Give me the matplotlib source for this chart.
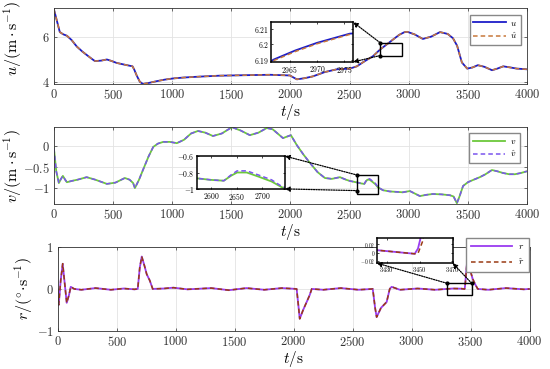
import matplotlib
matplotlib.use("Agg")
import matplotlib.pyplot as plt
from matplotlib.ticker import FuncFormatter, FixedLocator
from matplotlib.patches import Rectangle, ConnectionPatch

plt.rcParams['mathtext.fontset'] = 'cm'
plt.rcParams['font.family'] = ['DejaVu Serif']

# ---------------- data ----------------
u_t = [0, 20, 50, 80, 110, 150, 193, 240, 277, 320, 347, 400, 448, 490, 530, 600, 665, 680,
       700, 727, 753, 800, 870, 940, 1010, 1100, 1235, 1400, 1600, 1827, 1996, 2030, 2055,
       2120, 2190, 2292, 2393, 2503, 2562, 2630, 2700, 2757, 2820, 2867, 2920, 2962, 2966,
       2970, 2976, 2990, 3050, 3120, 3190, 3265, 3330, 3375, 3410, 3450, 3495, 3540, 3585,
       3640, 3705, 3750, 3800, 3860, 3915, 4000]
u = [7.2, 6.8, 6.2, 6.1, 6.04, 5.85, 5.57, 5.35, 5.2, 5.03, 4.93, 4.95, 5.0, 4.93, 4.85, 4.77,
     4.7, 4.55, 4.3, 4.02, 3.93, 3.97, 4.05, 4.12, 4.17, 4.21, 4.25, 4.29, 4.31, 4.33, 4.3,
     4.2, 4.13, 4.18, 4.26, 4.45, 4.57, 4.6, 4.7, 4.93, 5.15, 5.43, 5.68, 5.87, 6.08, 6.190,
     6.196, 6.201, 6.207, 6.21, 6.1, 5.9, 6.0, 6.2, 6.12, 5.93, 5.6, 4.87, 4.6, 4.65, 4.75,
     4.68, 4.53, 4.6, 4.7, 4.65, 4.6, 4.57]
u_hat = [7.2, 6.8, 6.2, 6.1, 6.04, 5.85, 5.57, 5.35, 5.2, 5.03, 4.93, 4.95, 5.0, 4.93, 4.85, 4.77,
         4.7, 4.55, 4.3, 4.02, 3.93, 3.97, 4.05, 4.12, 4.17, 4.21, 4.25, 4.29, 4.31, 4.33, 4.3,
         4.2, 4.13, 4.18, 4.26, 4.45, 4.57, 4.6, 4.7, 4.93, 5.15, 5.43, 5.68, 5.87, 6.08, 6.1893,
         6.1953, 6.2004, 6.2065, 6.21, 6.1, 5.9, 6.0, 6.2, 6.12, 5.93, 5.6, 4.87, 4.6, 4.65, 4.75,
         4.68, 4.53, 4.6, 4.7, 4.65, 4.6, 4.57]

v_t = [0, 20, 42, 60, 76, 95, 110, 150, 200, 277, 350, 448, 520, 600, 640, 670, 685, 720, 753,
       800, 840, 880, 925, 980, 1040, 1100, 1160, 1218, 1280, 1345, 1420, 1505, 1580, 1657,
       1730, 1800, 1850, 1900, 1937, 2004, 2055, 2110, 2165, 2230, 2292, 2350, 2419, 2470,
       2503, 2571, 2600, 2625, 2639, 2651, 2670, 2693, 2719, 2739, 2782, 2840, 2900, 2950,
       3010, 3095, 3150, 3205, 3280, 3349, 3380, 3408, 3430, 3460, 3501, 3550, 3602, 3650,
       3704, 3750, 3797, 3850, 3899, 3950, 4000]
v = [-0.05, -0.6, -0.88, -0.78, -0.71, -0.8, -0.86, -0.83, -0.8, -0.74, -0.8, -0.9, -0.87,
     -0.76, -0.8, -0.88, -1.0, -0.8, -0.57, -0.25, -0.02, 0.06, 0.1, 0.1, 0.07, 0.15, 0.3,
     0.36, 0.32, 0.24, 0.3, 0.45, 0.37, 0.26, 0.32, 0.43, 0.4, 0.28, 0.19, 0.26, 0.02, -0.2,
     -0.4, -0.62, -0.76, -0.78, -0.74, -0.8, -0.83, -0.87, -0.89, -0.9, -0.84, -0.8, -0.8,
     -0.85, -0.91, -0.98, -1.05, -1.08, -1.09, -1.1, -1.07, -1.19, -1.16, -1.14, -1.15,
     -1.17, -1.2, -1.36, -1.2, -0.95, -0.86, -0.8, -0.74, -0.67, -0.57, -0.6, -0.64, -0.67,
     -0.67, -0.64, -0.6]
v_hat = [-0.05, -0.6, -0.88, -0.78, -0.71, -0.8, -0.86, -0.83, -0.8, -0.74, -0.8, -0.9, -0.87,
         -0.76, -0.8, -0.88, -1.0, -0.8, -0.57, -0.25, -0.02, 0.06, 0.1, 0.1, 0.07, 0.15, 0.3,
         0.36, 0.32, 0.24, 0.3, 0.45, 0.37, 0.26, 0.32, 0.43, 0.4, 0.28, 0.19, 0.26, 0.02, -0.2,
         -0.4, -0.62, -0.76, -0.78, -0.74, -0.8, -0.83, -0.87, -0.89, -0.9, -0.83, -0.78, -0.78,
         -0.83, -0.89, -0.97, -1.05, -1.08, -1.09, -1.1, -1.07, -1.19, -1.16, -1.14, -1.15,
         -1.17, -1.2, -1.36, -1.2, -0.95, -0.86, -0.8, -0.74, -0.67, -0.57, -0.6, -0.64, -0.67,
         -0.67, -0.64, -0.6]

r_t = [0, 8, 25, 42, 60, 76, 95, 110, 140, 200, 320, 450, 560, 650, 678, 695, 712, 735, 754,
       780, 805, 900, 980, 1100, 1300, 1450, 1600, 1750, 1900, 2025, 2040, 2051, 2080, 2110,
       2135, 2153, 2250, 2400, 2550, 2670, 2690, 2703, 2740, 2788, 2814, 2830, 2900, 3050,
       3200, 3350, 3424, 3447, 3449, 3452, 3465, 3475, 3490, 3517, 3540, 3560, 3650, 3800,
       3950, 4000]
r = [0, -0.38, 0.2, 0.6, 0.1, -0.33, -0.15, 0.05, 0.0, -0.02, 0.02, -0.02, 0.01, -0.01, 0.0,
     0.5, 0.77, 0.55, 0.35, 0.2, 0.0, 0.01, 0.03, -0.01, 0.02, -0.03, 0.02, -0.02, 0.02, 0.0,
     -0.4, -0.71, -0.5, -0.31, -0.15, 0.0, -0.02, 0.02, -0.02, 0.0, -0.45, -0.67, -0.45, -0.31,
     0.0, 0.05, -0.02, 0.01, -0.02, 0.01, 0.006, -0.003, 0.01, 0.06, 0.5, 0.79, 0.5, 0.24,
     0.1, 0.0, -0.02, 0.02, -0.01, 0.0]
r_hat = [0, -0.38, 0.2, 0.6, 0.1, -0.33, -0.15, 0.05, 0.0, -0.02, 0.02, -0.02, 0.01, -0.01, 0.0,
         0.5, 0.77, 0.55, 0.35, 0.2, 0.0, 0.01, 0.03, -0.01, 0.02, -0.03, 0.02, -0.02, 0.02, 0.0,
         -0.4, -0.71, -0.5, -0.31, -0.15, 0.0, -0.02, 0.02, -0.02, 0.0, -0.45, -0.67, -0.45,
         -0.31, 0.0, 0.05, -0.02, 0.01, -0.02, 0.01, 0.006, -0.003, -0.002, 0.03, 0.5, 0.79,
         0.5, 0.24, 0.1, 0.0, -0.02, 0.02, -0.01, 0.0]

x_ticks = [0, 500, 1000, 1500, 2000, 2500, 3000, 3500, 4000]

# ---------------- styling ----------------
C_U, C_UH = '#1c1cc8', '#c8783a'
C_V, C_VH = '#6cc83c', '#7a55ee'
C_R, C_RH = '#9a3cf0', '#9a3a14'
GRID = '#e3e3e3'
SPINE = '#333333'

fmt = FuncFormatter(lambda x, p: f'${x:g}$')

fig = plt.figure(figsize=(5.5, 3.69), dpi=100)


def style_main(ax, yticks):
    ax.set_xlim(0, 4000)
    ax.xaxis.set_major_locator(FixedLocator(x_ticks))
    ax.yaxis.set_major_locator(FixedLocator(yticks))
    ax.xaxis.set_major_formatter(fmt)
    ax.yaxis.set_major_formatter(fmt)
    ax.grid(True, color=GRID, lw=0.6)
    ax.set_axisbelow(True)
    ax.tick_params(direction='in', length=2.5, width=0.5, labelsize=9, colors=SPINE,
                   top=True, right=True, pad=3)
    for s in ax.spines.values():
        s.set_color(SPINE)
        s.set_linewidth(0.6)
    ax.set_xlabel(r'$t/\mathrm{s}$', fontsize=11, labelpad=0)


def style_inset(ax, xlim, ylim, xt, yt, ls=5.5):
    ax.set_xlim(*xlim)
    ax.set_ylim(*ylim)
    ax.xaxis.set_major_locator(FixedLocator(xt))
    ax.yaxis.set_major_locator(FixedLocator(yt))
    ax.xaxis.set_major_formatter(fmt)
    ax.yaxis.set_major_formatter(fmt)
    ax.tick_params(direction='in', length=1.5, width=0.5, labelsize=ls, pad=1.5,
                   top=True, right=True)
    for s in ax.spines.values():
        s.set_color('black')
        s.set_linewidth(1.1)


def connect(ax_from, pt, ins, corner):
    con = ConnectionPatch(xyA=pt, coordsA=ax_from.transData, xyB=corner,
                          coordsB=ins.transAxes, arrowstyle='-|>', linestyle=(0, (1, 1)),
                          color='black', lw=0.9, mutation_scale=7, shrinkA=0, shrinkB=0)
    fig.add_artist(con)
    ax_from.plot([pt[0]], [pt[1]], 'o', color='black', ms=2, clip_on=False, zorder=6)


# ---------------- panel 1: u ----------------
ax1 = fig.add_axes([0.098, 0.772, 0.860, 0.206])
ax1.plot(u_t, u, color=C_U, lw=1.3, label=r'$u$')
ax1.plot(u_t, u_hat, color=C_UH, lw=1.1, ls=(0, (3, 2)), label=r'$\hat{u}$')
ax1.set_ylim(3.92, 7.25)
style_main(ax1, [4, 6])
ax1.set_ylabel(r'$u/(\mathrm{m}\cdot\mathrm{s}^{-1})$', fontsize=11.5)
ax1.yaxis.set_label_coords(-0.064, 0.6)
ax1.legend(loc='upper right', bbox_to_anchor=(0.987, 0.91), borderaxespad=0, fontsize=6.5,
           handlelength=3.6, frameon=True, fancybox=False, edgecolor='#888888',
           framealpha=1, borderpad=0.4, labelspacing=0.35, handletextpad=0.5)
box1 = (2757, 5.17, 186, 0.57)
ax1.add_patch(Rectangle(box1[:2], box1[2], box1[3], fill=False, ec='black', lw=1.0, zorder=5))
in1 = fig.add_axes([0.493, 0.832, 0.149, 0.108])
in1.plot(u_t, u, color=C_U, lw=1.3)
in1.plot(u_t, u_hat, color=C_UH, lw=1.1, ls=(0, (3, 2)))
style_inset(in1, (2961.6, 2976.6), (6.1885, 6.2145), [2965, 2970, 2975], [6.19, 6.2, 6.21])
connect(ax1, (box1[0], box1[1] + box1[3]), in1, (1, 1))
connect(ax1, (box1[0], box1[1]), in1, (1, 0))

# ---------------- panel 2: v ----------------
ax2 = fig.add_axes([0.098, 0.447, 0.860, 0.209])
ax2.plot(v_t, v, color=C_V, lw=1.3, label=r'$v$')
ax2.plot(v_t, v_hat, color=C_VH, lw=1.1, ls=(0, (3, 2)), label=r'$\hat{v}$')
ax2.set_ylim(-1.38, 0.456)
style_main(ax2, [-1, -0.5, 0])
ax2.set_ylabel(r'$v/(\mathrm{m}\cdot\mathrm{s}^{-1})$', fontsize=11.5)
ax2.yaxis.set_label_coords(-0.064, 0.5)
ax2.legend(loc='upper right', bbox_to_anchor=(0.985, 0.92), borderaxespad=0, fontsize=6.5,
           handlelength=3.6, frameon=True, fancybox=False, edgecolor='#888888',
           framealpha=1, borderpad=0.4, labelspacing=0.35, handletextpad=0.5)
box2 = (2565, -1.14, 180, 0.45)
ax2.add_patch(Rectangle(box2[:2], box2[2], box2[3], fill=False, ec='black', lw=1.0, zorder=5))
in2 = fig.add_axes([0.358, 0.488, 0.160, 0.089])
in2.plot(v_t, v, color=C_V, lw=1.3)
in2.plot(v_t, v_hat, color=C_VH, lw=1.1, ls=(0, (3, 2)))
style_inset(in2, (2572, 2745), (-1.0, -0.6), [2600, 2650, 2700], [-1, -0.8, -0.6])
connect(ax2, (box2[0], box2[1] + box2[3]), in2, (1, 1))
connect(ax2, (box2[0], box2[1] + 0.08), in2, (1, 0))

# ---------------- panel 3: r ----------------
ax3 = fig.add_axes([0.105, 0.103, 0.858, 0.228])
ax3.plot(r_t, r, color=C_R, lw=1.3, label=r'$r$')
ax3.plot(r_t, r_hat, color=C_RH, lw=1.1, ls=(0, (3, 2)), label=r'$\hat{r}$')
ax3.set_ylim(-1, 1)
style_main(ax3, [-1, 0, 1])
ax3.set_ylabel(r'$r/(^{\circ}\!\cdot\!\mathrm{s}^{-1})$', fontsize=11.5)
ax3.yaxis.set_label_coords(-0.049, 0.5)
leg3 = ax3.legend(loc='upper right', bbox_to_anchor=(0.998, 1.11), borderaxespad=0,
                  fontsize=7, handlelength=4.2, frameon=True, fancybox=False,
                  edgecolor='#888888', framealpha=1, borderpad=0.5, labelspacing=0.5,
                  handletextpad=0.6)
leg3.set_zorder(10)
box3 = (3297, -0.14, 211, 0.276)
ax3.add_patch(Rectangle(box3[:2], box3[2], box3[3], fill=False, ec='black', lw=1.0, zorder=5))
in3 = fig.add_axes([0.685, 0.287, 0.138, 0.068])
in3.plot(r_t, r, color=C_R, lw=1.3)
in3.plot(r_t, r_hat, color=C_RH, lw=1.1, ls=(0, (3, 2)))
style_inset(in3, (3424, 3470), (-0.026, 0.036), [3430, 3450, 3470], [-0.02, 0, 0.02], ls=4.6)
in3.tick_params(axis='y', labelsize=3.8, pad=1)
connect(ax3, (box3[0], box3[1] + box3[3]), in3, (0, 0))
connect(ax3, (box3[0] + box3[2], box3[1] + box3[3]), in3, (1, 0))

fig.savefig('out.png', dpi=100, facecolor='white')
